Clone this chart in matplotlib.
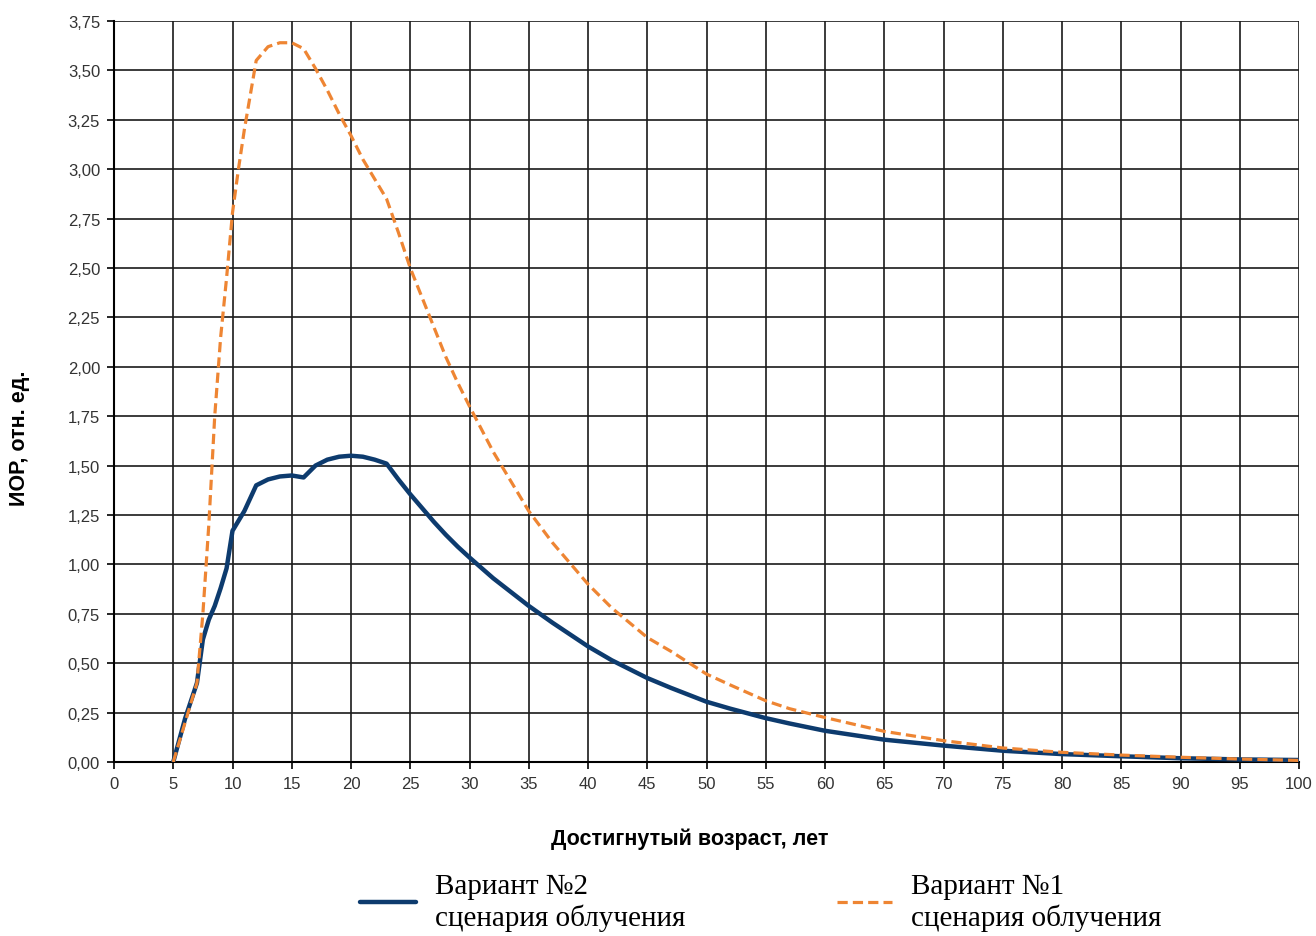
import numpy as np
import matplotlib.pyplot as plt
from matplotlib.ticker import MultipleLocator, FuncFormatter

# Возраст, лет
age = [5, 6, 7, 7.5, 8, 8.5, 9, 9.5, 10, 10.5, 11, 12, 13, 14, 15, 16, 17, 18, 19, 20,
       21, 22, 23, 24, 25, 26, 27, 28, 29, 30, 32, 35, 37, 40, 42, 45, 47, 50, 52, 55,
       57, 60, 65, 70, 75, 80, 85, 90, 95, 100]

# Вариант №2 (сплошная)
var2 = [0.00, 0.22, 0.40, 0.62, 0.72, 0.79, 0.88, 0.98, 1.17, 1.22, 1.27, 1.40, 1.43, 1.445, 1.45, 1.44, 1.50, 1.53, 1.545, 1.55,
        1.545, 1.53, 1.51, 1.43, 1.355, 1.285, 1.215, 1.15, 1.09, 1.035, 0.93, 0.79, 0.705, 0.585, 0.515, 0.425, 0.375, 0.305, 0.27, 0.222,
        0.195, 0.158, 0.113, 0.083, 0.057, 0.04, 0.029, 0.019, 0.013, 0.01]

# Вариант №1 (пунктир)
var1 = [0.00, 0.20, 0.40, 0.75, 1.20, 1.75, 2.15, 2.45, 2.78, 3.00, 3.20, 3.55, 3.62, 3.64, 3.64, 3.61, 3.51, 3.40, 3.28, 3.17,
        3.05, 2.95, 2.85, 2.68, 2.50, 2.35, 2.20, 2.05, 1.92, 1.80, 1.57, 1.27, 1.11, 0.90, 0.78, 0.63, 0.56, 0.445, 0.39, 0.31,
        0.27, 0.225, 0.155, 0.108, 0.071, 0.049, 0.035, 0.024, 0.015, 0.008]

label2 = "Вариант №2\nсценария облучения"
label1 = "Вариант №1\nсценария облучения"

fig = plt.figure(figsize=(13.16, 9.37), dpi=100)
ax = fig.add_axes([114/1316, 1 - 763/937, (1299 - 114)/1316, (763 - 22)/937])

l2, = ax.plot(age, var2, color='#0d3b6e', lw=3.2, solid_capstyle='round', solid_joinstyle='round', zorder=3)
l1, = ax.plot(age, var1, color='#ee8533', lw=2.3, dashes=(3.2, 1.6), zorder=4)

ax.set_xlim(0, 100)
ax.set_ylim(0, 3.75)
ax.xaxis.set_major_locator(MultipleLocator(5))
ax.yaxis.set_major_locator(MultipleLocator(0.25))
ax.yaxis.set_major_formatter(FuncFormatter(lambda v, p: f"{v:.2f}".replace('.', ',')))

ax.grid(True, color='#1a1a1a', lw=1.2)
ax.set_axisbelow(True)
for s in ['top', 'right']:
    ax.spines[s].set_visible(False)
for s in ['left', 'bottom']:
    ax.spines[s].set_color('black')
    ax.spines[s].set_linewidth(1.5)

ax.tick_params(axis='both', direction='out', length=5, width=1.2, color='black',
               labelsize=12, labelcolor='#333333')
ax.tick_params(axis='x', pad=5)
ax.tick_params(axis='y', pad=5)
for t in ax.get_xticklabels() + ax.get_yticklabels():
    t.set_family('Liberation Sans')

fig.text(690/1316, 1 - 839/937, "Достигнутый возраст, лет", ha='center', va='center',
         fontsize=15.5, fontweight='bold', family='Liberation Sans')
fig.text(20/1316, 1 - 438/937, "ИОР, отн. ед.", ha='center', va='center', rotation=90,
         fontsize=15.5, fontweight='bold', family='Liberation Sans')

fig.legend([l2, l1], [label2, label1], ncol=2, loc='center', bbox_to_anchor=(761/1316, 1 - 903/937),
           frameon=False, prop={'family': 'Liberation Serif', 'size': 21},
           handlelength=1.9, handletextpad=0.65, columnspacing=5.2, labelspacing=0.2)

fig.savefig("out.png", dpi=100)
